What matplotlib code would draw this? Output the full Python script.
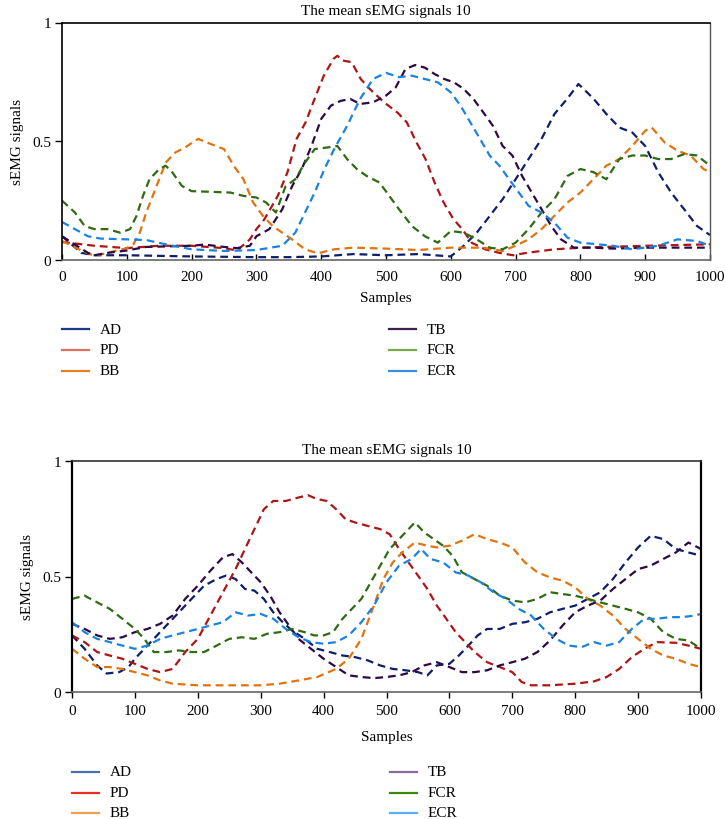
import matplotlib
matplotlib.use("Agg")
import matplotlib.pyplot as plt
from matplotlib.lines import Line2D

plt.rcParams['font.family'] = ['Liberation Serif', 'DejaVu Serif']

# ---------------- data: top chart ----------------
top_AD_x = [0, 30, 50, 100, 200, 300, 350, 400, 450, 500, 550, 600, 620, 640, 660, 680, 700, 720, 740, 760, 780, 797, 820, 840, 860, 880, 900, 920, 940, 960, 980, 1000]
top_AD_y = [0.10, 0.03, 0.02, 0.02, 0.015, 0.012, 0.012, 0.015, 0.025, 0.02, 0.025, 0.015, 0.06, 0.115, 0.185, 0.256, 0.34, 0.425, 0.51, 0.615, 0.68, 0.741, 0.68, 0.615, 0.558, 0.537, 0.48, 0.37, 0.284, 0.214, 0.143, 0.105]

top_PD_x = [0, 50, 100, 150, 200, 250, 270, 290, 300, 312, 333, 348, 362, 376, 390, 404, 419, 425, 433, 447, 461, 475, 497, 518, 532, 547, 561, 575, 589, 604, 618, 632, 653, 675, 696, 717, 760, 802, 852, 902, 1000]
top_PD_y = [0.076, 0.06, 0.05, 0.06, 0.06, 0.05, 0.04, 0.087, 0.13, 0.17, 0.27, 0.37, 0.51, 0.58, 0.68, 0.776, 0.847, 0.86, 0.84, 0.833, 0.762, 0.72, 0.664, 0.62, 0.58, 0.495, 0.425, 0.326, 0.242, 0.172, 0.129, 0.073, 0.045, 0.03, 0.02, 0.03, 0.045, 0.052, 0.056, 0.06, 0.066]

top_BB_x = [0, 30, 50, 70, 100, 110, 120, 130, 140, 150, 160, 175, 190, 210, 230, 250, 265, 280, 295, 310, 325, 340, 355, 375, 395, 420, 450, 500, 550, 600, 650, 680, 700, 720, 740, 760, 780, 800, 820, 840, 860, 880, 900, 910, 930, 950, 970, 990, 1000]
top_BB_y = [0.08, 0.04, 0.017, 0.03, 0.05, 0.066, 0.115, 0.2, 0.27, 0.34, 0.41, 0.453, 0.474, 0.51, 0.488, 0.467, 0.397, 0.34, 0.242, 0.186, 0.143, 0.115, 0.087, 0.045, 0.028, 0.045, 0.052, 0.048, 0.042, 0.052, 0.052, 0.038, 0.06, 0.087, 0.13, 0.186, 0.242, 0.284, 0.34, 0.397, 0.425, 0.48, 0.544, 0.558, 0.495, 0.46, 0.44, 0.383, 0.37]

top_TB_x = [0, 40, 50, 70, 100, 130, 200, 220, 250, 270, 290, 300, 320, 340, 355, 370, 385, 400, 415, 430, 445, 460, 480, 500, 515, 530, 545, 560, 575, 590, 605, 620, 635, 650, 665, 680, 695, 710, 725, 740, 755, 770, 790, 820, 850, 900, 950, 1000]
top_TB_y = [0.10, 0.03, 0.02, 0.03, 0.04, 0.055, 0.06, 0.065, 0.055, 0.05, 0.06, 0.10, 0.13, 0.214, 0.31, 0.383, 0.48, 0.594, 0.65, 0.67, 0.678, 0.657, 0.664, 0.692, 0.727, 0.804, 0.821, 0.81, 0.783, 0.762, 0.748, 0.72, 0.678, 0.622, 0.565, 0.48, 0.44, 0.354, 0.284, 0.214, 0.143, 0.087, 0.052, 0.052, 0.048, 0.052, 0.052, 0.052]

top_FCR_x = [0, 20, 35, 50, 70, 90, 105, 115, 125, 135, 150, 160, 170, 185, 200, 230, 260, 280, 300, 315, 330, 345, 360, 375, 390, 410, 425, 440, 455, 470, 490, 505, 520, 540, 560, 580, 600, 620, 640, 660, 680, 700, 720, 740, 760, 780, 800, 820, 840, 860, 880, 900, 920, 940, 960, 980, 1000]
top_FCR_y = [0.25, 0.20, 0.143, 0.13, 0.13, 0.115, 0.13, 0.186, 0.27, 0.34, 0.383, 0.397, 0.37, 0.312, 0.29, 0.287, 0.284, 0.27, 0.263, 0.242, 0.20, 0.31, 0.34, 0.41, 0.467, 0.474, 0.48, 0.425, 0.383, 0.354, 0.326, 0.27, 0.214, 0.143, 0.10, 0.073, 0.122, 0.115, 0.087, 0.052, 0.045, 0.073, 0.13, 0.20, 0.256, 0.354, 0.383, 0.37, 0.34, 0.425, 0.44, 0.44, 0.425, 0.425, 0.446, 0.44, 0.397]

top_ECR_x = [0, 20, 40, 60, 100, 130, 160, 200, 250, 300, 340, 360, 375, 390, 405, 420, 440, 460, 480, 500, 520, 540, 560, 580, 600, 615, 630, 645, 660, 675, 690, 705, 720, 740, 760, 780, 800, 850, 880, 920, 950, 980, 1000]
top_ECR_y = [0.16, 0.13, 0.10, 0.09, 0.087, 0.084, 0.066, 0.045, 0.038, 0.042, 0.06, 0.115, 0.20, 0.284, 0.383, 0.467, 0.565, 0.678, 0.762, 0.788, 0.77, 0.776, 0.762, 0.748, 0.706, 0.65, 0.58, 0.51, 0.44, 0.397, 0.34, 0.284, 0.228, 0.20, 0.157, 0.094, 0.073, 0.06, 0.045, 0.06, 0.087, 0.08, 0.06]

# ---------------- data: bottom chart ----------------
bot_AD_x = [0, 20, 40, 55, 75, 90, 100, 115, 130, 150, 170, 190, 210, 230, 245, 260, 275, 290, 305, 320, 335, 350, 370, 390, 410, 430, 450, 470, 490, 510, 530, 550, 565, 580, 600, 615, 630, 645, 660, 680, 700, 720, 740, 760, 780, 800, 820, 840, 860, 880, 900, 920, 940, 960, 980, 1000]
bot_AD_y = [0.245, 0.187, 0.115, 0.08, 0.086, 0.108, 0.144, 0.187, 0.23, 0.288, 0.345, 0.403, 0.46, 0.489, 0.504, 0.489, 0.446, 0.439, 0.403, 0.345, 0.302, 0.266, 0.23, 0.187, 0.173, 0.158, 0.151, 0.137, 0.115, 0.10, 0.094, 0.086, 0.072, 0.115, 0.122, 0.158, 0.20, 0.245, 0.273, 0.273, 0.295, 0.302, 0.317, 0.345, 0.36, 0.374, 0.403, 0.432, 0.489, 0.561, 0.626, 0.676, 0.662, 0.619, 0.604, 0.59]

bot_PD_x = [0, 20, 40, 60, 80, 100, 120, 140, 160, 180, 200, 220, 240, 260, 275, 290, 305, 320, 340, 360, 375, 390, 405, 420, 435, 450, 470, 490, 505, 520, 535, 550, 565, 580, 595, 610, 625, 640, 660, 680, 700, 715, 730, 760, 800, 830, 850, 870, 890, 910, 930, 960, 980, 1000]
bot_PD_y = [0.245, 0.216, 0.173, 0.158, 0.144, 0.122, 0.10, 0.086, 0.10, 0.173, 0.23, 0.331, 0.432, 0.532, 0.619, 0.705, 0.791, 0.827, 0.827, 0.842, 0.852, 0.835, 0.827, 0.791, 0.748, 0.734, 0.719, 0.705, 0.683, 0.619, 0.561, 0.504, 0.446, 0.374, 0.317, 0.259, 0.216, 0.173, 0.129, 0.108, 0.086, 0.043, 0.029, 0.029, 0.036, 0.046, 0.065, 0.10, 0.151, 0.187, 0.216, 0.213, 0.201, 0.187]

bot_BB_x = [0, 20, 40, 60, 80, 100, 120, 140, 160, 200, 250, 300, 330, 360, 390, 420, 440, 460, 480, 495, 510, 525, 545, 565, 580, 600, 620, 640, 660, 680, 700, 720, 740, 760, 780, 800, 820, 840, 860, 880, 900, 920, 940, 960, 980, 1000]
bot_BB_y = [0.187, 0.144, 0.108, 0.108, 0.10, 0.086, 0.072, 0.05, 0.036, 0.029, 0.029, 0.029, 0.036, 0.05, 0.065, 0.10, 0.144, 0.23, 0.374, 0.489, 0.561, 0.604, 0.647, 0.633, 0.626, 0.633, 0.655, 0.683, 0.662, 0.647, 0.626, 0.561, 0.518, 0.496, 0.482, 0.453, 0.403, 0.374, 0.331, 0.273, 0.23, 0.187, 0.158, 0.144, 0.122, 0.108]

bot_TB_x = [0, 20, 40, 60, 80, 100, 120, 140, 160, 180, 200, 220, 240, 255, 270, 285, 300, 315, 330, 345, 360, 380, 400, 420, 440, 460, 480, 500, 520, 540, 560, 580, 600, 620, 640, 660, 680, 700, 720, 740, 760, 780, 800, 820, 840, 860, 880, 900, 920, 940, 960, 980, 1000]
bot_TB_y = [0.295, 0.273, 0.245, 0.23, 0.237, 0.259, 0.273, 0.295, 0.331, 0.403, 0.46, 0.525, 0.583, 0.597, 0.561, 0.518, 0.475, 0.417, 0.345, 0.288, 0.23, 0.187, 0.144, 0.108, 0.072, 0.065, 0.06, 0.065, 0.072, 0.086, 0.115, 0.129, 0.108, 0.086, 0.086, 0.094, 0.115, 0.129, 0.144, 0.173, 0.223, 0.288, 0.345, 0.374, 0.396, 0.446, 0.489, 0.532, 0.547, 0.576, 0.604, 0.647, 0.619]

bot_FCR_x = [0, 20, 40, 60, 80, 100, 115, 130, 150, 170, 190, 210, 230, 250, 270, 290, 310, 330, 350, 370, 385, 400, 415, 430, 445, 460, 475, 490, 505, 520, 535, 545, 560, 575, 590, 605, 620, 640, 660, 680, 700, 720, 740, 760, 780, 800, 820, 840, 860, 880, 900, 920, 940, 960, 980, 1000]
bot_FCR_y = [0.403, 0.417, 0.388, 0.36, 0.317, 0.273, 0.23, 0.173, 0.173, 0.18, 0.173, 0.173, 0.201, 0.23, 0.237, 0.23, 0.252, 0.259, 0.273, 0.259, 0.245, 0.245, 0.259, 0.317, 0.36, 0.403, 0.475, 0.547, 0.619, 0.662, 0.705, 0.734, 0.691, 0.662, 0.633, 0.59, 0.518, 0.489, 0.46, 0.417, 0.396, 0.388, 0.403, 0.432, 0.424, 0.417, 0.403, 0.388, 0.374, 0.36, 0.345, 0.317, 0.259, 0.23, 0.223, 0.187]

bot_ECR_x = [0, 20, 40, 60, 80, 100, 120, 140, 160, 180, 200, 220, 240, 260, 280, 300, 320, 340, 360, 380, 400, 420, 440, 460, 480, 500, 520, 540, 555, 570, 590, 610, 630, 650, 670, 690, 710, 730, 750, 770, 790, 810, 830, 850, 870, 890, 910, 930, 950, 970, 990, 1000]
bot_ECR_y = [0.302, 0.259, 0.23, 0.216, 0.201, 0.187, 0.201, 0.23, 0.245, 0.259, 0.273, 0.288, 0.302, 0.345, 0.331, 0.338, 0.317, 0.273, 0.237, 0.216, 0.209, 0.216, 0.245, 0.302, 0.374, 0.475, 0.547, 0.576, 0.619, 0.576, 0.561, 0.518, 0.504, 0.475, 0.432, 0.403, 0.36, 0.331, 0.273, 0.23, 0.201, 0.194, 0.216, 0.201, 0.216, 0.273, 0.317, 0.317, 0.324, 0.324, 0.331, 0.338]

names = ["AD", "PD", "BB", "TB", "FCR", "ECR"]
x_ticks = [0, 100, 200, 300, 400, 500, 600, 700, 800, 900, 1000]
y_ticks = [0, 0.5, 1]
y_ticklabels = ["0", "0.5", "1"]
title_text = "The mean sEMG signals 10"

line_colors = ["#0d1f6b", "#b01515", "#e2730e", "#2d0a45", "#2e6b12", "#1a82e0"]
legend_colors_top = ["#1a3a8a", "#e07060", "#e08020", "#402050", "#78a850", "#3a8ee0"]
legend_colors_bot = ["#4a70b0", "#e83020", "#f0a050", "#8a6a9a", "#3a8a10", "#5ab0f0"]

top_series = [(top_AD_x, top_AD_y), (top_PD_x, top_PD_y), (top_BB_x, top_BB_y),
              (top_TB_x, top_TB_y), (top_FCR_x, top_FCR_y), (top_ECR_x, top_ECR_y)]
bot_series = [(bot_AD_x, bot_AD_y), (bot_PD_x, bot_PD_y), (bot_BB_x, bot_BB_y),
              (bot_TB_x, bot_TB_y), (bot_FCR_x, bot_FCR_y), (bot_ECR_x, bot_ECR_y)]

W, H = 725, 820
fig = plt.figure(figsize=(W / 100, H / 100), dpi=100)
FS = 11


def px_rect(l, t, r, b):
    return [l / W, (H - b) / H, (r - l) / W, (b - t) / H]


def style_axes(ax, xtick_dir, xlabelpad):
    ax.set_xlim(0, 1000)
    ax.set_ylim(0, 1)
    ax.set_xticks(x_ticks)
    ax.set_yticks(y_ticks)
    ax.set_yticklabels(y_ticklabels)
    ax.tick_params(axis='y', direction='out', length=5, width=1, pad=3, labelsize=FS)
    ax.tick_params(axis='x', direction=xtick_dir, length=4, width=1,
                   pad=7 if xtick_dir == 'in' else 5, labelsize=FS)
    ax.set_xlabel("Samples", fontsize=FS, labelpad=xlabelpad)
    ax.set_ylabel("sEMG signals", fontsize=FS, labelpad=6)
    ax.set_title(title_text, fontsize=FS, pad=6)


def draw_legend(colors, x_col1, x_col2, y_rows):
    for i, name in enumerate(names):
        col = i // 3
        row = i % 3
        x0 = x_col1 if col == 0 else x_col2
        y = y_rows[row]
        fig.add_artist(Line2D([x0 / W, (x0 + 27) / W], [(H - y) / H, (H - y) / H],
                              color=colors[i], lw=1.6, transform=fig.transFigure))
        fig.text((x0 + 38) / W, (H - y) / H, name, fontsize=FS, va='center', ha='left')


# ---- top axes ----
ax1 = fig.add_axes(px_rect(62, 23.5, 710, 261))
for (xs, ys), c in zip(top_series, line_colors):
    ax1.plot(xs, ys, color=c, lw=1.6, dashes=(3.5, 2.2))
style_axes(ax1, 'in', 6)
ax1.spines['left'].set_color('black'); ax1.spines['left'].set_linewidth(1.2)
ax1.spines['top'].set_color('black'); ax1.spines['top'].set_linewidth(1.2)
ax1.spines['right'].set_color('#555555'); ax1.spines['right'].set_linewidth(1.0)
ax1.spines['bottom'].set_color('#666666'); ax1.spines['bottom'].set_linewidth(1.2)

# ---- bottom axes ----
ax2 = fig.add_axes(px_rect(72, 462, 701, 693))
for (xs, ys), c in zip(bot_series, line_colors):
    ax2.plot(xs, ys, color=c, lw=1.6, dashes=(3.5, 2.2))
style_axes(ax2, 'out', 9)
ax2.spines['left'].set_color('black'); ax2.spines['left'].set_linewidth(1.6)
ax2.spines['top'].set_color('#333333'); ax2.spines['top'].set_linewidth(1.2)
ax2.spines['right'].set_color('black'); ax2.spines['right'].set_linewidth(1.6)
ax2.spines['bottom'].set_color('#666666'); ax2.spines['bottom'].set_linewidth(1.2)

draw_legend(legend_colors_top, 62, 389, [330, 351, 372])
draw_legend(legend_colors_bot, 72, 390, [773, 794, 814])

fig.savefig("out.png", dpi=100)
